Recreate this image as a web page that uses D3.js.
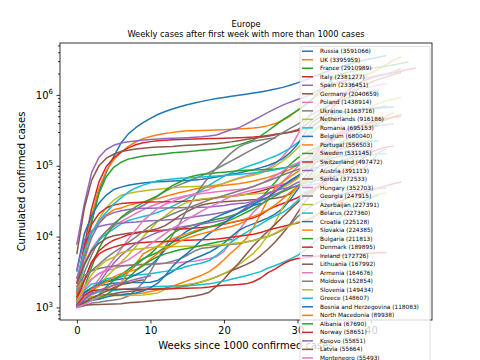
<!DOCTYPE html>
<html><head><meta charset="utf-8">
<script src="https://cdn.jsdelivr.net/npm/d3@7"></script>
<style>body{margin:0;background:#fff} svg{display:block;font-family:"DejaVu Sans",sans-serif}</style>
</head><body><svg id="c" width="480" height="360"></svg>
<script>
const titleLines = ["Europe", "Weekly cases after first week with more than 1000 cases"];
const xLabel = "Weeks since 1000 confirmed cases";
const yLabel = "Cumulated confirmed cases";
const countries = ["Russia","UK","France","Italy","Spain","Germany","Poland","Ukraine","Netherlands","Romania","Belgium","Portugal","Sweden","Switzerland","Austria","Serbia","Hungary","Georgia","Azerbaijan","Belarus","Croatia","Slovakia","Bulgaria","Denmark","Ireland","Lithuania","Armenia","Moldova","Slovenia","Greece","Bosnia and Herzegovina","North Macedonia","Albania","Norway","Kosovo","Latvia","Montenegro","Luxembourg","Finland","Estonia","Cyprus","Malta","Andorra","Iceland","San Marino","Liechtenstein","Monaco"];
const totals = [3591066,3395959,2910989,2381277,2336451,2040659,1438914,1163716,916186,695153,680040,556503,531145,497472,391113,372533,352703,247915,227391,227360,225128,224385,211813,189895,172726,167992,164676,152854,149434,148607,118083,89938,67690,58651,55851,55664,55493,48600,41000,38000,29500,16500,9100,5950,2800,2450,1400];

const Russia = [1534,5389,15770,42853,80949,134687,209688,281752,344481,405843,467673,528964,583879,633542,680283,727162,770311,811073,850870,887536,922853,956749,990326,1025505,1062811,1103399,1151438,1209039,1278245,1369313,1480646,1618116,1774334,1948603,2138828,2332070,2515009,2707945,2896802,3078035,3236787,3401954,3591066];
const UK = [1395,5741,19780,48436,85206,121173,154037,187842,216525,241461,259559,274762,285416,295889,304331,311151,312000,314000,317000,320000,323000,327000,331000,336000,342000,350000,368504,394257,439013,503709,604885,722409,874872,1034914,1195605,1372405,1515802,1623715,1727751,1854490,2043496,2288345,2658002,3072352,3395959];
const France = [1209,5423,16243,40708,70000,95000,112000,124000,131000,137000,141000,144000,148000,152000,155000,158000,161000,165000,168000,172000,178000,186000,197000,213000,232000,264000,312000,372000,444000,520000,603000,705000,870000,1131000,1385000,1751000,1978000,2114000,2193000,2282000,2359000,2451000,2534000,2640000,2775000,2910989];
const Italy = [1694,7375,24747,59138,97689,128948,156363,178972,197675,210717,219070,225435,229858,232997,234998,236989,238499,240436,241819,243061,244624,246286,248229,250566,254235,259345,268218,277634,287753,298156,311364,327586,359569,423578,542789,709335,935104,1178529,1408868,1585178,1728878,1855737,1953185,2047696,2155446,2276491,2381277];
const Spain = [7798,28603,80110,131646,169496,194416,209465,218011,224390,230183,235400,239479,241717,244109,246752,248970,251789,255953,262730,272421,297054,322980,342813,386054,439286,498989,566326,640040,716481,789932,861112,936560,1046132,1185678,1328832,1458591,1556730,1628208,1684647,1730575,1797236,1893502,1982544,2111782,2336451];
const Germany = [5795,24873,62095,100123,127854,145184,158758,165664,171879,176551,180328,183410,185674,187671,191216,194693,196944,199709,202735,206242,211005,217293,225404,234494,243599,251728,261737,273286,285026,299237,323379,366299,449275,545027,671868,790503,918269,1053869,1171322,1320716,1510994,1655038,1787410,1933826,2040659];
const Poland = [1862,4102,6674,9287,11902,13693,16326,18529,21326,23786,26561,29017,31620,34154,35950,37891,40383,43402,46346,51167,56486,61762,67372,71947,76571,82809,91514,107319,135278,179386,269521,414844,580999,772823,924422,1004168,1083080,1131934,1207332,1239495,1303900,1369000,1438914];
const Ukraine = [1319,3102,5449,9009,11913,15232,18291,21245,24340,27462,31810,37241,43628,49043,54133,59546,65603,72435,80596,90697,103359,117023,132922,152297,172796,194489,219695,254426,294416,336186,384617,452497,525596,610009,691723,767581,845719,915117,987779,1049051,1119000,1163716];
const Netherlands = [1135,4216,10866,17851,25587,32655,38245,40571,42627,44141,45445,46545,47574,48783,49914,50335,50986,51408,52073,53413,56381,60834,65654,69696,73208,78511,86705,99814,117495,140220,176474,223042,285000,347000,407000,448000,486000,524000,563000,617000,681000,759000,822000,870000,916186];
const Romania = [1760,3864,6300,8746,11036,12732,15131,16871,18070,19257,20290,21999,24045,26970,30175,34226,39133,45902,53186,61768,70702,79330,87540,96000,104000,113000,125000,137000,154000,177000,210000,251000,307000,366000,424000,482000,535000,579000,609000,627000,644000,669000,695153];
const Belgium = [3401,10836,19691,29647,38496,46134,49906,53081,55280,57092,58381,59348,60100,60898,61427,62058,62872,64258,66428,69402,72784,76100,79000,83500,88000,94000,101000,111000,126000,153000,200000,290000,410000,480000,520000,550000,570000,590000,605000,620000,636000,650000,665000,680040];
const Portugal = [1600,5962,11278,16585,20206,23864,25351,27581,29209,30788,32500,34351,36690,39392,41912,44129,46818,48771,50299,51681,52825,54234,55720,58012,60895,64539,68577,74717,80000,89000,104000,124000,145000,180000,217000,255000,288000,316000,344000,370000,394000,432000,495000,556503];
const Sweden = [1022,1906,3700,6830,10483,14385,18640,22317,26322,30143,33843,37814,44730,52383,58932,67667,72286,75826,77281,79494,81181,82972,84985,86505,86900,87700,88900,90300,92800,95700,100600,106000,116000,130000,156000,187000,215000,244000,279000,320000,368000,397000,446000,490000,531145];
const Switzerland = [2200,7245,14829,21100,25300,27900,29200,29900,30300,30600,30800,30900,31000,31100,31300,31700,32300,33300,34300,35200,36100,37000,38100,39600,41700,44000,47200,50400,53800,58800,67000,84000,121000,176000,233000,273000,303000,327000,355000,384000,412000,437000,460000,481000,497472];
const Austria = [3244,9000,12000,13900,14700,15200,15500,15800,16100,16500,16700,16900,17100,17400,17800,18400,19000,19700,20400,21200,22100,23600,25300,27500,30600,35000,40000,45400,51700,59800,71000,87000,115000,150000,200000,250000,278000,300000,319000,335000,350000,365000,379000,391113];
const Serbia = [2200,4054,6318,8042,9464,10258,10733,11159,11454,11823,12310,12894,14288,16719,19717,22443,25552,27863,29406,30405,31099,31591,32000,32600,33000,33400,33900,34800,36500,40000,49000,69000,96000,136000,181000,234000,283000,316000,337000,346000,359000,372533];
const Hungary = [1310,1984,2500,3000,3300,3500,3800,3900,4000,4080,4130,4160,4200,4250,4300,4400,4500,4700,4900,5200,6200,8400,12000,16700,22000,27800,35000,45000,60000,75000,97000,123000,154000,190000,226000,261000,290000,312000,330000,343000,352703];
const Georgia = [1000,1050,1150,1180,1230,1270,1320,1450,1750,2250,3200,4900,7200,10400,15600,24000,36500,52000,71000,94000,121000,152000,183000,205000,221000,231000,240000,247915];
const Azerbaijan = [1058,1450,1700,2000,2700,3400,4300,5500,7200,9900,12700,16400,19500,23500,27100,30400,32700,33900,34700,35600,36500,37500,38400,39300,40000,40900,42000,44000,49000,56000,66000,83000,105000,129000,158000,185000,204000,216000,222000,225500,227391];
const Belarus = [2578,6264,11289,16705,22052,28681,35244,42556,48630,53241,57333,61475,63600,65114,66348,67366,68503,69400,70500,71600,72900,74100,75700,77300,79300,81600,84200,87800,92000,98000,105000,114000,124000,135000,147000,160000,173000,187000,200000,214000,227360];
const Croatia = [1182,1650,1871,2030,2100,2200,2226,2244,2247,2250,2260,2400,2800,3200,3800,4400,4900,5400,6000,6900,8100,10000,12200,13800,15100,16600,18400,20900,25000,33000,46000,62000,80000,99000,126000,150000,173000,195000,210000,215000,221000,225128];
const Slovakia = [1100,1380,1410,1460,1500,1520,1530,1550,1560,1600,1680,1760,1870,2000,2170,2370,2600,2850,3200,3800,4700,5900,7300,9300,13300,21000,34000,50000,59000,70000,82000,96000,109000,121000,136000,153000,170000,187000,208000,224385];
const Bulgaria = [1300,1600,1900,2200,2400,2500,2700,3200,3900,4800,5700,7200,9000,11000,12700,13800,14700,15700,16600,17600,18500,19700,21400,23900,28000,34000,45000,59000,78000,104000,128000,150000,170000,185000,195000,201000,205000,209000,211813];
const Denmark = [1420,2395,4369,6318,7695,8896,9670,10591,11166,11593,11875,12099,12391,12615,12768,12946,13173,13390,13725,14185,14959,15740,16537,17374,18356,20237,23799,26637,29302,32082,35392,40356,46351,53180,61078,69635,79352,90603,108000,130000,155000,170000,183000,189895];
const Ireland = [2615,4994,9655,15251,19648,21772,23135,24112,24639,25062,25207,25303,25405,25462,25538,25683,25819,25942,26253,26712,27547,28578,29206,29894,31549,33444,35990,39584,44159,50993,58067,62002,65889,68686,70461,72028,73491,75616,79507,91779,113000,152000,172726];
const Lithuania = [1053,1298,1398,1449,1523,1562,1639,1682,1720,1776,1806,1836,1859,1900,1957,2019,2149,2306,2469,2711,2997,3291,3633,4024,4519,5396,6672,8468,11120,15020,21650,30990,41320,52840,64590,86760,109200,126060,142300,156000,167992];
const Armenia = [1013,1248,1808,2507,3538,4823,6661,9282,12364,16667,20588,25127,28606,31392,34462,37390,39298,40433,41663,42936,44075,45152,46376,47877,50850,55736,62547,72698,84000,98000,110000,125000,134000,141000,147000,151000,155000,158000,161000,163000,164676];
const Moldova = [1560,2472,3304,4052,5000,6000,7000,8300,9800,11900,14300,16600,18700,20800,23000,25000,27400,30000,33000,35500,38000,41000,44000,47000,51000,56000,61000,67000,74000,81000,88000,97000,107000,116000,124000,131000,137000,142000,146000,150000,152854];
const Slovenia = [1188,1317,1408,1439,1454,1466,1469,1473,1485,1500,1550,1600,1800,1900,2000,2100,2200,2300,2500,2700,3000,3400,4000,4800,5800,7500,10500,16000,26000,37000,50000,62000,72000,83000,94000,104000,115000,124000,132000,141000,149434];
const Greece = [1156,1735,2145,2235,2534,2620,2716,2834,2878,2918,2980,3121,3227,3343,3511,3803,4048,4227,4587,5421,6632,8381,9841,11386,13200,15000,17400,19600,22000,25800,32000,42000,60000,77000,93000,106000,117000,126000,133000,138000,142000,146000,148607];
const Bosnia = [1285,1585,1839,2106,2290,2416,2510,2606,2893,3250,3900,4900,6500,8500,10100,12000,13600,15200,16800,19000,21000,23000,25000,27000,29000,32000,36000,43000,52000,62000,72000,82000,91000,98000,104000,108000,111000,113500,116000,118083];
const NorthMacedonia = [1117,1415,1506,1691,1858,2040,2226,3152,4157,5687,6470,7406,8420,9249,10213,11000,12000,12800,13600,14500,15200,16000,16800,17900,19300,21300,24000,28000,34000,42000,51000,60000,68000,74000,79000,82000,84000,86000,88000,89938];
const Albania = [1004,1137,1263,1521,1962,2402,2893,3454,4171,4880,5396,6016,7117,8275,9380,10406,11520,12535,13649,14730,15955,17350,19445,21904,24731,28432,32761,37625,42988,47742,52542,57000,60000,64000,67690];
const Norway = [1256,2383,4284,5687,6525,7103,7599,7847,8099,8257,8383,8446,8547,8631,8788,8879,8950,9028,9085,9240,9468,9750,10113,10477,10791,11424,12330,13100,13900,14700,15600,16600,18400,21400,25000,28900,32200,35600,38500,41600,45000,48700,52000,55700,58651];
const Kosovo = [1100,1300,1600,2200,3100,4200,5400,6600,8000,9300,10400,11500,12300,13000,13600,14100,14600,15100,15700,16300,17200,18900,21600,25600,30800,36100,40800,44500,47500,49500,51500,53000,54500,55851];
const Latvia = [1050,1070,1090,1100,1110,1120,1130,1160,1180,1200,1230,1260,1280,1300,1320,1400,1450,1520,1640,2000,2500,3300,4200,5600,7400,9500,12000,15000,19000,24000,30000,37500,44000,50000,55664];
const Montenegro = [1100,1800,2500,3000,3400,3800,4200,4700,5500,6600,7800,9300,11000,13000,15000,17500,20000,23000,26000,29000,33000,37000,40000,43000,45500,47500,50000,53000,55493];
const Luxembourg = [1988,2804,3292,3550,3729,3840,3888,3945,3993,4016,4040,4094,4216,4473,4842,5449,6252,6864,7000,7300,7600,7800,7900,8400,8800,9500,10000,11000,12500,14500,19000,23000,27500,31000,34500,37000,39500,42000,44000,45500,46500,47700,48600];
const Finland = [1240,1900,2900,3800,4600,5100,5900,6300,6600,6800,7000,7100,7150,7200,7250,7290,7330,7400,7500,7600,7800,8000,8200,8400,8800,9300,10000,11300,12800,14300,16000,17000,19000,20500,22500,25000,28000,31000,34000,36000,37500,39500,41000];
const Estonia = [1108,1304,1535,1660,1703,1739,1784,1840,1870,1910,1950,1970,1990,2000,2020,2030,2060,2100,2150,2250,2350,2500,2650,2800,3000,3200,3600,3900,4300,4800,5400,6400,7800,9700,12000,15000,19500,24500,28500,31500,35000,38000];
const Cyprus = [1050,1200,1260,1300,1400,1480,1500,1550,1600,1700,1900,2200,2800,3800,4800,5800,7200,9000,11000,13000,15500,18500,21500,24500,27500,29500];
const Malta = [1100,1400,1800,2000,2300,2700,3000,3200,3400,4000,4800,5800,6600,7500,8600,9500,10300,11000,11700,12400,13100,13900,15000,16500];
const Andorra = [1050,1150,1250,1350,1500,1800,2100,2600,3300,3900,4600,5200,5700,6100,6500,6800,7100,7500,7900,8300,8700,9100];
const Iceland = [1086,1486,1700,1771,1795,1799,1802,1803,1804,1806,1807,1810,1820,1840,1860,1870,1880,1900,1940,2000,2050,2080,2100,2150,2300,2600,3100,3500,4100,4600,4900,5000,5200,5300,5350,5400,5450,5500,5600,5700,5800,5900,5950];
const SanMarino = [1050,1300,1550,1750,1900,2050,2200,2350,2500,2650,2800];
const Liechtenstein = [1000,1200,1350,1500,1700,1900,2100,2200,2350,2450];
const Monaco = [1000,1100,1250,1400];

const series = [Russia,UK,France,Italy,Spain,Germany,Poland,Ukraine,Netherlands,Romania,Belgium,Portugal,Sweden,Switzerland,Austria,Serbia,Hungary,Georgia,Azerbaijan,Belarus,Croatia,Slovakia,Bulgaria,Denmark,Ireland,Lithuania,Armenia,Moldova,Slovenia,Greece,Bosnia,NorthMacedonia,Albania,Norway,Kosovo,Latvia,Montenegro,Luxembourg,Finland,Estonia,Cyprus,Malta,Andorra,Iceland,SanMarino,Liechtenstein,Monaco];
const xTicks = [0,10,20,30,40];
const yTicks = [1e3,1e4,1e5,1e6];
const palette = ["#1f77b4","#ff7f0e","#2ca02c","#d62728","#9467bd","#8c564b","#e377c2","#7f7f7f","#bcbd22","#17becf"];

const svg = d3.select("#c");
const L = 60, R = 432, T = 43, B = 320;

const maxLen = d3.max(series, s => s.length) - 1;
const xm = maxLen * 0.05;
const x = d3.scaleLinear().domain([-xm, maxLen + xm]).range([L, R]);
const lo = Math.log10(d3.min(series, s => d3.min(s)));
const hi = Math.log10(d3.max(series, s => d3.max(s)));
const ym = (hi - lo) * 0.05;
const y = d3.scaleLog().domain([Math.pow(10, lo - ym), Math.pow(10, hi + ym)]).range([B, T]);

// lines
const clip = svg.append("clipPath").attr("id","clipA").append("rect")
  .attr("x", L).attr("y", T).attr("width", R - L).attr("height", B - T);
const line = d3.line().x((d, i) => x(i)).y(d => y(d));
svg.append("g").attr("clip-path","url(#clipA)")
  .selectAll("path").data(series).join("path")
  .attr("d", line).attr("fill","none")
  .attr("stroke", (d, i) => palette[i % 10])
  .attr("stroke-width", 1.5).attr("stroke-linejoin","round").attr("stroke-linecap","square");

// axes
const gx = svg.append("g").attr("transform", `translate(0,${B})`)
  .call(d3.axisBottom(x).tickValues(xTicks).tickSize(3.5).tickPadding(3.5).tickFormat(d3.format("d")));
const gy = svg.append("g").attr("transform", `translate(${L},0)`)
  .call(d3.axisLeft(y).tickValues(yTicks).tickSize(3.5).tickPadding(3.5).tickFormat(""));
const minor = [];
for (let e = 2; e <= 6; e++) for (let m = 2; m <= 9; m++) { const v = m * Math.pow(10, e); if (v >= y.domain()[0] && v <= y.domain()[1]) minor.push(v); }
svg.append("g").attr("transform", `translate(${L},0)`)
  .call(d3.axisLeft(y).tickValues(minor).tickSize(2).tickFormat(""))
  .call(g => g.select(".domain").remove());
[gx, gy].forEach(g => {
  g.select(".domain").remove();
  g.selectAll("line").attr("stroke","#000").attr("stroke-width",0.8);
  g.selectAll("text").attr("font-family","DejaVu Sans").attr("font-size",10).attr("fill","#000");
});
svg.selectAll("g .tick line").attr("stroke","#000").attr("stroke-width",0.8);
gy.selectAll(".tick").each(function(d) {
  const t = d3.select(this).append("text").attr("x", -7).attr("dy","0.32em")
    .attr("text-anchor","end").attr("font-family","DejaVu Sans").attr("font-size",10).attr("fill","#000");
  t.append("tspan").text("10");
  t.append("tspan").attr("dy", -4.5).attr("font-size", 7).text(Math.round(Math.log10(d)));
});
svg.append("rect").attr("x", L).attr("y", T).attr("width", R - L).attr("height", B - T)
  .attr("fill","none").attr("stroke","#000").attr("stroke-width",0.8);

// labels
svg.append("text").attr("x", (L + R) / 2).attr("y", 349).attr("text-anchor","middle")
  .attr("font-size",10).attr("fill","#000").text(xLabel);
svg.append("text").attr("transform", `translate(25,${(T + B) / 2}) rotate(-90)`).attr("text-anchor","middle")
  .attr("font-size",10).attr("fill","#000").text(yLabel);
titleLines.forEach((t, i) => svg.append("text").attr("x", (L + R) / 2).attr("y", 27 + i * 9.5)
  .attr("text-anchor","middle").attr("font-size",8.3).attr("fill","#000").text(t));

// legend
const lg = svg.append("g");
lg.append("rect").attr("x", 300).attr("y", 46.5).attr("width", 130).attr("height", 420).attr("rx", 1.5)
  .attr("fill","#fff").attr("fill-opacity",0.8).attr("stroke","#cccccc").attr("stroke-opacity",0.8).attr("stroke-width",0.8);
countries.forEach((c, i) => {
  const yy = 51.2 + i * 8.52;
  lg.append("line").attr("x1", 302).attr("x2", 313).attr("y1", yy).attr("y2", yy)
    .attr("stroke", palette[i % 10]).attr("stroke-width", 1.5);
  lg.append("text").attr("x", 320).attr("y", yy).attr("dy","0.35em").attr("font-size",5.8)
    .attr("fill","#000").text(`${c} (${totals[i]})`);
});
</script></body></html>
